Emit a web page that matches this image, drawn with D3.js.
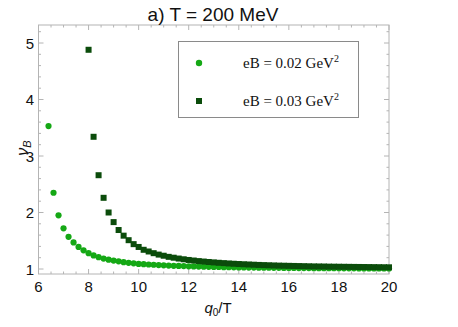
<!DOCTYPE html>
<html>
<head>
<meta charset="utf-8">
<script src="https://cdn.jsdelivr.net/npm/d3@7"></script>
<style>
  body { margin: 0; background: #fff; }
  svg { display: block; }
</style>
</head>
<body>
<div id="chart"></div>
<script>
// q0/T sample points and nu_B values
const xGreen = [6.4, 6.6, 6.8, 7.0, 7.2, 7.4, 7.6, 7.8, 8.0, 8.2, 8.4, 8.6, 8.8, 9.0, 9.2, 9.4, 9.6, 9.8,
  10.0, 10.2, 10.4, 10.6, 10.8, 11.0, 11.2, 11.4, 11.6, 11.8, 12.0, 12.2, 12.4, 12.6, 12.8, 13.0, 13.2, 13.4,
  13.6, 13.8, 14.0, 14.2, 14.4, 14.6, 14.8, 15.0, 15.2, 15.4, 15.6, 15.8, 16.0, 16.2, 16.4, 16.6, 16.8, 17.0,
  17.2, 17.4, 17.6, 17.8, 18.0, 18.2, 18.4, 18.6, 18.8, 19.0, 19.2, 19.4, 19.6, 19.8, 20.0];
const yGreen = [3.53, 2.35, 1.95, 1.72, 1.57, 1.47, 1.39, 1.33, 1.28, 1.24, 1.21, 1.185, 1.165, 1.15, 1.135, 1.12, 1.11, 1.10,
  1.09, 1.085, 1.08, 1.075, 1.07, 1.065, 1.06, 1.057, 1.054, 1.051, 1.048, 1.045, 1.043, 1.041, 1.039, 1.037, 1.035, 1.033,
  1.031, 1.03, 1.028, 1.027, 1.026, 1.025, 1.024, 1.023, 1.022, 1.021, 1.02, 1.019, 1.018, 1.018, 1.017, 1.016, 1.016, 1.015,
  1.015, 1.014, 1.014, 1.013, 1.013, 1.012, 1.012, 1.012, 1.011, 1.011, 1.011, 1.010, 1.010, 1.010, 1.009];

const xDark = [8.0, 8.2, 8.4, 8.6, 8.8, 9.0, 9.2, 9.4, 9.6, 9.8,
  10.0, 10.2, 10.4, 10.6, 10.8, 11.0, 11.2, 11.4, 11.6, 11.8, 12.0, 12.2, 12.4, 12.6, 12.8, 13.0, 13.2, 13.4,
  13.6, 13.8, 14.0, 14.2, 14.4, 14.6, 14.8, 15.0, 15.2, 15.4, 15.6, 15.8, 16.0, 16.2, 16.4, 16.6, 16.8, 17.0,
  17.2, 17.4, 17.6, 17.8, 18.0, 18.2, 18.4, 18.6, 18.8, 19.0, 19.2, 19.4, 19.6, 19.8, 20.0];
const yDark = [4.88, 3.34, 2.66, 2.26, 2.00, 1.83, 1.69, 1.59, 1.51, 1.44,
  1.39, 1.34, 1.31, 1.28, 1.255, 1.235, 1.215, 1.20, 1.185, 1.172, 1.16, 1.15, 1.14, 1.132, 1.124, 1.117, 1.11, 1.104,
  1.098, 1.093, 1.088, 1.084, 1.08, 1.076, 1.072, 1.069, 1.066, 1.063, 1.06, 1.058, 1.056, 1.054, 1.052, 1.05, 1.048, 1.046,
  1.045, 1.044, 1.042, 1.041, 1.04, 1.039, 1.038, 1.037, 1.036, 1.035, 1.034, 1.033, 1.032, 1.031, 1.03];

const xTicks = [6, 8, 10, 12, 14, 16, 18, 20];
const yTicks = [1, 2, 3, 4, 5];
const legendLabels = ["eB = 0.02 GeV", "eB = 0.03 GeV"];

const W = 458, H = 327;
const pLeft = 38.5, pRight = 389, pTop = 25, pBottom = 274;
const green = "#15a815", dark = "#0b4c0b", frameCol = "#b4b4b4";

const svg = d3.select("#chart").append("svg")
  .attr("width", W).attr("height", H);

const x = d3.scaleLinear().domain([6, 20]).range([pLeft, pRight]);
const y = d3.scaleLinear().domain([1, 5]).range([269, 43]);

// frame
svg.append("rect")
  .attr("x", pLeft).attr("y", pTop)
  .attr("width", pRight - pLeft).attr("height", pBottom - pTop)
  .attr("fill", "none").attr("stroke", frameCol).attr("stroke-width", 1);

// ticks on all four sides, pointing inward
const xMinor = d3.range(6, 20.001, 0.5).filter(v => Math.abs(v % 2) > 0.01);
const yMinor = d3.range(1, 5.3, 0.2).filter(v => Math.abs(v - Math.round(v)) > 0.01);
const yAllMinor = yMinor.filter(v => y(v) < pBottom && y(v) > pTop);

const tickG = svg.append("g").attr("stroke", frameCol).attr("stroke-width", 1);
function tickX(v, len) {
  tickG.append("line").attr("x1", x(v)).attr("x2", x(v)).attr("y1", pBottom).attr("y2", pBottom - len);
  tickG.append("line").attr("x1", x(v)).attr("x2", x(v)).attr("y1", pTop).attr("y2", pTop + len);
}
function tickY(v, len) {
  tickG.append("line").attr("y1", y(v)).attr("y2", y(v)).attr("x1", pLeft).attr("x2", pLeft + len);
  tickG.append("line").attr("y1", y(v)).attr("y2", y(v)).attr("x1", pRight).attr("x2", pRight - len);
}
xTicks.forEach(v => tickX(v, 5));
xMinor.forEach(v => tickX(v, 2.5));
yTicks.forEach(v => tickY(v, 5));
yAllMinor.forEach(v => tickY(v, 2.5));

// tick labels
svg.append("g").selectAll("text").data(xTicks).join("text")
  .attr("x", d => x(d)).attr("y", 292)
  .attr("text-anchor", "middle")
  .attr("font-family", "Liberation Sans, Arial, sans-serif")
  .attr("font-size", 15).attr("fill", "#111")
  .text(d => d);
svg.append("g").selectAll("text").data(yTicks).join("text")
  .attr("x", 34).attr("y", d => y(d) + 5.5)
  .attr("text-anchor", "end")
  .attr("font-family", "Liberation Sans, Arial, sans-serif")
  .attr("font-size", 15).attr("fill", "#111")
  .text(d => d);

// data
const plot = svg.append("g");
plot.selectAll("circle").data(xGreen).join("circle")
  .attr("cx", d => x(d)).attr("cy", (d, i) => y(yGreen[i]))
  .attr("r", 3.1).attr("fill", green);
plot.selectAll("rect").data(xDark).join("rect")
  .attr("x", d => x(d) - 3).attr("y", (d, i) => y(yDark[i]) - 3)
  .attr("width", 6).attr("height", 6).attr("fill", dark);

// title
svg.append("text")
  .attr("x", 213).attr("y", 21)
  .attr("text-anchor", "middle")
  .attr("font-family", "Liberation Sans, Arial, sans-serif")
  .attr("font-size", 19).attr("fill", "#111")
  .text("a) T = 200 MeV");

// axis labels
const xl = svg.append("text")
  .attr("x", 218).attr("y", 313)
  .attr("text-anchor", "middle")
  .attr("font-family", "Liberation Sans, Arial, sans-serif")
  .attr("font-size", 15).attr("fill", "#111");
xl.append("tspan").attr("font-style", "italic").text("q");
xl.append("tspan").attr("font-size", 10).attr("dy", 3).text("0");
xl.append("tspan").attr("dy", -3).text("/T");

const yl = svg.append("text")
  .attr("transform", "translate(28,148) rotate(-90)")
  .attr("text-anchor", "middle")
  .attr("font-family", "Liberation Sans, Arial, sans-serif")
  .attr("font-size", 16).attr("fill", "#111");
yl.append("tspan").attr("font-style", "italic").text("ν");
yl.append("tspan").attr("font-style", "italic").attr("font-size", 11).attr("dy", 3).text("B");

// legend
const lg = svg.append("g");
lg.append("rect")
  .attr("x", 178.5).attr("y", 41.5).attr("width", 180).attr("height", 76)
  .attr("fill", "#fff").attr("stroke", "#8a8a8a").attr("stroke-width", 1);
lg.append("circle").attr("cx", 199).attr("cy", 63).attr("r", 3.2).attr("fill", green);
lg.append("rect").attr("x", 196).attr("y", 98).attr("width", 6).attr("height", 6).attr("fill", dark);
legendLabels.forEach((lab, i) => {
  const t = lg.append("text")
    .attr("x", 243).attr("y", 68 + i * 38)
    .attr("font-family", "Liberation Serif, Times New Roman, serif")
    .attr("font-size", 15).attr("fill", "#111");
  t.append("tspan").text(lab);
  t.append("tspan").attr("font-size", 10).attr("dy", -6).text("2");
});
</script>
</body>
</html>
